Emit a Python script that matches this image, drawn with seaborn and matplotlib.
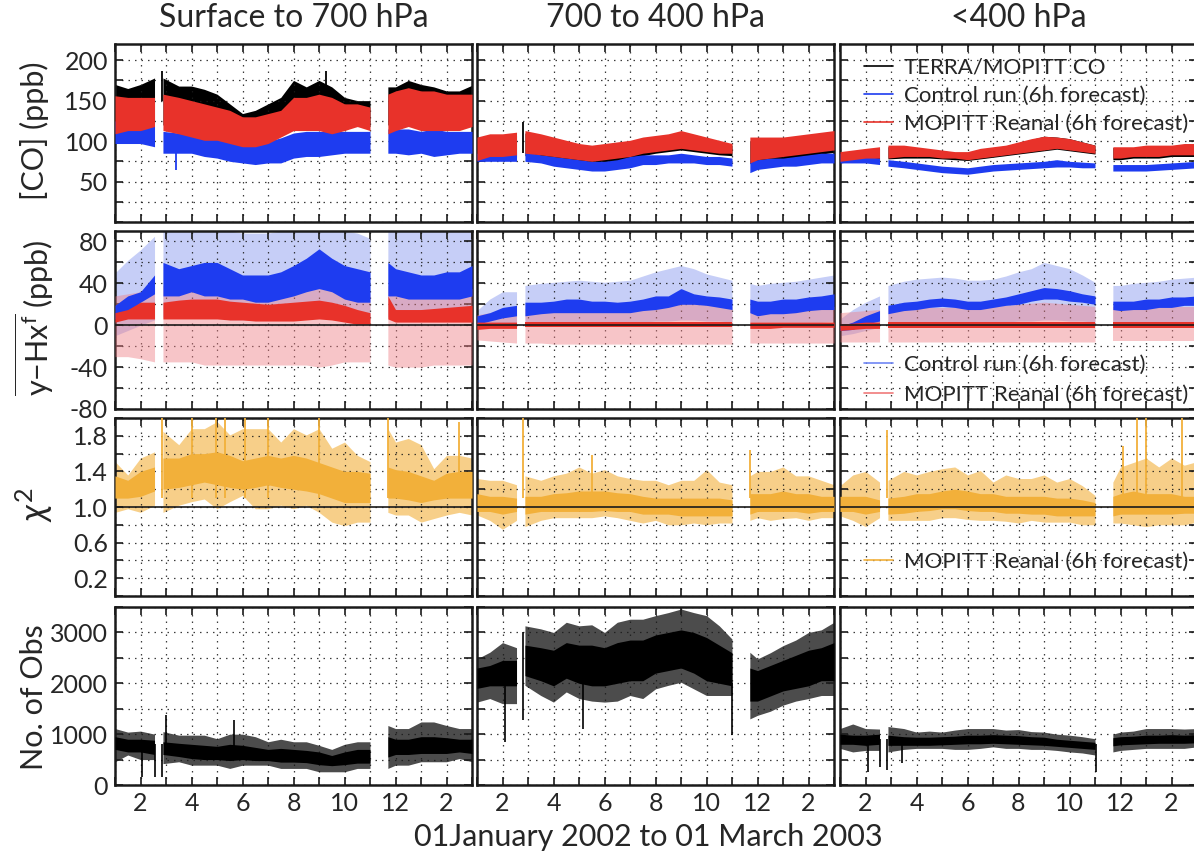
import numpy as np
import pandas as pd
import matplotlib
matplotlib.use('Agg')
import matplotlib.pyplot as plt
from matplotlib.lines import Line2D
from matplotlib.ticker import MultipleLocator, FuncFormatter
import seaborn as sns

N = np.nan

# time axis in months (1 = Jan 2002, 13 = Jan 2003, 15 = Mar 2003), NaN = Nov 2002 gap
T = [1.0, 1.5, 2.0, 2.55, 2.88, 3.5, 4.0, 4.5, 5.0, 5.5, 6.0, 6.5, 7.0, 7.5, 8.0, 8.5,
     9.0, 9.5, 10.0, 10.5, 11.0, 11.3, 11.7, 12.0, 12.5, 13.0, 13.5, 14.0, 14.5, 15.0]
# data gaps: mid Feb 2002 and Nov 2002
SEG = ['a'] * 4 + ['b'] * 18 + ['c'] * 8

# ---- [CO] (ppb): lower / upper envelope of each series ----
co_obs_hi_sfc = [170, 165, 170, 178, 178, 168, 168, 164, 158, 146, 134, 138, 146, 154, 175, 167, 175, 167, 154, 150, 150, N, 167, 167, 175, 170, 167, 162, 162, 169]
co_obs_lo_sfc = [120, 118, 120, 122, 120, 118, 115, 112, 108, 104, 100, 100, 104, 110, 118, 120, 120, 118, 118, 118, 118, N, 120, 120, 122, 120, 120, 120, 120, 120]
co_rea_hi_sfc = [156, 154, 154, 154, 158, 154, 150, 146, 142, 138, 130, 130, 134, 138, 154, 154, 158, 154, 146, 146, 142, N, 158, 162, 166, 162, 162, 158, 158, 158]
co_rea_lo_sfc = [109, 113, 113, 118, 113, 109, 105, 101, 101, 97, 93, 93, 97, 105, 113, 113, 113, 109, 113, 118, 113, N, 109, 113, 118, 113, 113, 113, 113, 118]
co_ctl_hi_sfc = [125, 122, 120, 118, 112, 110, 108, 106, 104, 100, 98, 98, 100, 104, 110, 112, 112, 112, 112, 112, 112, N, 115, 115, 115, 112, 115, 112, 112, 112]
co_ctl_lo_sfc = [97, 97, 97, 93, 85, 85, 85, 81, 79, 75, 73, 71, 73, 73, 79, 81, 81, 83, 85, 85, 85, N, 85, 85, 83, 85, 81, 83, 85, 85]

co_obs_hi_mid = [100, 104, 105, 107, 110, 105, 100, 96, 92, 90, 92, 95, 98, 102, 105, 107, 111, 108, 104, 99, 95, N, 100, 100, 101, 102, 104, 106, 108, 110]
co_obs_lo_mid = [74, 78, 78, 80, 82, 80, 77, 75, 73, 72, 73, 75, 78, 82, 85, 87, 89, 87, 85, 83, 82, N, 72, 75, 77, 78, 80, 82, 84, 86]
co_rea_hi_mid = [105, 109, 109, 111, 113, 109, 105, 101, 97, 95, 97, 99, 101, 105, 107, 109, 113, 109, 105, 101, 97, N, 105, 105, 105, 105, 107, 109, 111, 113]
co_rea_lo_mid = [76, 81, 81, 83, 85, 83, 81, 79, 77, 75, 77, 79, 81, 85, 87, 89, 91, 89, 87, 85, 85, N, 73, 77, 79, 81, 83, 85, 87, 89]
co_ctl_hi_mid = [85, 87, 87, 87, 87, 83, 81, 79, 77, 75, 75, 77, 81, 83, 83, 83, 85, 83, 81, 81, 79, N, 77, 77, 79, 79, 81, 83, 85, 85]
co_ctl_lo_mid = [75, 75, 75, 75, 75, 73, 69, 67, 65, 63, 63, 65, 67, 71, 71, 73, 73, 73, 71, 71, 69, N, 61, 65, 67, 69, 69, 71, 73, 73]

co_obs_hi_up = [85, 87, 89, 91, 93, 93, 91, 89, 88, 86, 86, 90, 92, 94, 98, 102, 106, 105, 103, 99, 95, N, 92, 92, 92, 94, 94, 94, 96, 96]
co_obs_lo_up = [73, 75, 77, 77, 78, 79, 79, 79, 78, 77, 76, 78, 80, 82, 84, 86, 88, 90, 88, 86, 84, N, 77, 77, 79, 79, 79, 81, 81, 81]
co_rea_hi_up = [87, 89, 91, 93, 95, 95, 93, 91, 89, 87, 87, 91, 93, 95, 99, 103, 106, 105, 103, 99, 95, N, 93, 93, 93, 95, 95, 95, 97, 97]
co_rea_lo_up = [75, 77, 79, 79, 79, 81, 81, 81, 79, 79, 77, 79, 81, 83, 85, 87, 89, 91, 89, 87, 85, N, 79, 79, 81, 81, 81, 83, 83, 83]
co_ctl_hi_up = [85, 83, 81, 79, 77, 75, 73, 71, 69, 68, 67, 69, 71, 72, 73, 74, 75, 77, 75, 74, 73, N, 71, 71, 71, 71, 72, 73, 74, 75]
co_ctl_lo_up = [73, 73, 73, 71, 69, 67, 65, 63, 61, 60, 59, 61, 63, 64, 65, 66, 67, 68, 68, 67, 67, N, 63, 63, 63, 63, 64, 65, 66, 67]

# isolated spikes (month, from, to)
co_spk_t_sfc = [2.83, 9.26, 3.40]
co_spk_lo_sfc = [150, 160, 64]
co_spk_hi_sfc = [187, 187, 95]
co_spk_c_sfc = ['k', 'k', 'b']
co_spk_t_mid = [2.82]
co_spk_lo_mid = [85]
co_spk_hi_mid = [124]
co_spk_c_mid = ['k']

# ---- mean O-F (ppb): spread band (light) and mean band (dark) ----
of_ctl_sd_hi_sfc = [50, 62, 72, 85, 90, 90, 90, 90, 90, 90, 88, 88, 88, 90, 90, 90, 90, 90, 90, 88, 83, N, 90, 90, 90, 90, 90, 90, 90, 90]
of_ctl_sd_lo_sfc = [-10, -5, 0, 5, 8, 8, 8, 8, 8, 5, 5, 5, 5, 5, 8, 8, 10, 8, 5, 5, 5, N, 8, 8, 5, 5, 5, 5, 5, 8]
of_ctl_hi_sfc = [19, 28, 32, 48, 60, 54, 57, 60, 60, 54, 48, 48, 48, 51, 57, 64, 73, 64, 57, 54, 51, N, 60, 54, 51, 48, 48, 51, 51, 57]
of_ctl_lo_sfc = [6, 12, 22, 30, 28, 28, 32, 28, 28, 25, 25, 22, 22, 25, 28, 32, 35, 32, 25, 22, 22, N, 28, 28, 25, 25, 25, 25, 25, 28]
of_rea_sd_hi_sfc = [28, 30, 32, 35, 38, 38, 38, 38, 38, 35, 35, 35, 35, 35, 38, 38, 40, 38, 35, 32, 30, N, 38, 35, 35, 35, 35, 35, 35, 35]
of_rea_sd_lo_sfc = [-30, -30, -32, -35, -35, -35, -35, -38, -38, -38, -38, -38, -38, -38, -38, -38, -40, -38, -35, -35, -35, N, -38, -40, -40, -40, -38, -38, -38, -38]
of_rea_hi_sfc = [12, 15, 22, 22, 22, 24, 25, 25, 25, 23, 22, 21, 20, 21, 22, 23, 24, 22, 19, 15, 12, N, 28, 15, 15, 15, 16, 17, 18, 19]
of_rea_lo_sfc = [3, 6, 6, 6, 6, 6, 6, 6, 6, 5, 5, 4, 4, 4, 4, 5, 6, 5, 3, 1, 1, N, 6, 3, 3, 3, 3, 3, 3, 3]

of_ctl_sd_hi_mid = [14, 25, 32, 32, 38, 40, 41, 42, 43, 42, 41, 42, 43, 47, 51, 54, 57, 54, 49, 46, 43, N, 40, 38, 40, 41, 42, 44, 46, 48]
of_ctl_sd_lo_mid = [-3, -2, 0, 2, 3, 3, 3, 3, 3, 3, 3, 3, 3, 3, 4, 4, 5, 5, 4, 4, 3, N, 3, 3, 3, 3, 3, 3, 3, 4]
of_ctl_hi_mid = [9, 12, 17, 19, 22, 22, 23, 25, 25, 23, 23, 22, 23, 25, 28, 28, 35, 30, 28, 27, 25, N, 25, 23, 23, 25, 25, 27, 28, 30]
of_ctl_lo_mid = [1, 4, 7, 9, 9, 11, 12, 12, 12, 12, 12, 12, 12, 14, 15, 17, 20, 20, 19, 17, 15, N, 12, 9, 11, 11, 12, 14, 15, 15]
of_rea_sd_hi_mid = [10, 12, 14, 15, 16, 17, 17, 17, 17, 17, 17, 17, 17, 18, 19, 20, 22, 21, 20, 19, 18, N, 17, 16, 16, 17, 17, 17, 18, 18]
of_rea_sd_lo_mid = [-14, -15, -16, -17, -17, -17, -18, -18, -18, -18, -18, -18, -18, -18, -18, -18, -18, -18, -18, -18, -18, N, -17, -17, -17, -17, -17, -17, -17, -17]
of_rea_hi_mid = [3, 3, 3, 3, 3, 3, 3, 3, 3, 3, 3, 3, 3, 3, 3, 3, 3, 3, 3, 3, 3, N, 3, 3, 3, 3, 3, 3, 3, 3]
of_rea_lo_mid = [-4, -3, -3, -3, -2, -2, -2, -2, -2, -2, -2, -2, -2, -2, -2, -2, -2, -2, -2, -2, -2, N, -3, -3, -3, -2, -2, -2, -2, -2]

of_ctl_sd_hi_up = [6, 15, 22, 28, 38, 42, 44, 45, 46, 45, 43, 43, 44, 47, 51, 54, 60, 57, 54, 48, 41, N, 38, 38, 40, 41, 42, 44, 45, 46]
of_ctl_sd_lo_up = [-10, -8, -5, -2, 0, 2, 3, 3, 3, 3, 3, 3, 3, 3, 4, 4, 5, 5, 4, 4, 3, N, 3, 3, 3, 3, 3, 3, 3, 3]
of_ctl_hi_up = [-1, 3, 9, 14, 19, 22, 23, 25, 26, 25, 23, 23, 25, 27, 30, 33, 36, 35, 33, 30, 28, N, 23, 23, 23, 25, 25, 27, 27, 28]
of_ctl_lo_up = [-5, -4, 1, 4, 11, 14, 15, 17, 18, 17, 15, 15, 17, 19, 20, 23, 25, 25, 23, 22, 20, N, 15, 14, 15, 15, 17, 17, 19, 19]
of_rea_sd_hi_up = [12, 13, 14, 15, 17, 17, 17, 17, 17, 17, 17, 17, 18, 19, 20, 21, 22, 21, 20, 19, 18, N, 17, 17, 17, 17, 17, 17, 17, 17]
of_rea_sd_lo_up = [-16, -16, -16, -16, -16, -16, -16, -16, -16, -16, -16, -16, -16, -16, -16, -16, -16, -16, -16, -16, -16, N, -15, -15, -15, -15, -15, -15, -15, -15]
of_rea_hi_up = [1, 2, 3, 3, 3, 3, 3, 3, 3, 3, 3, 3, 3, 3, 3, 3, 3, 3, 3, 3, 3, N, 3, 3, 3, 3, 3, 3, 3, 3]
of_rea_lo_up = [-5, -4, -3, -3, -3, -3, -3, -3, -3, -3, -3, -3, -3, -3, -3, -3, -3, -3, -3, -3, -3, N, -3, -3, -3, -3, -3, -3, -3, -3]

# ---- chi^2: spikes (outer) and dense core ----
chi_out_hi_sfc = [1.51, 1.36, 1.55, 1.62, 1.85, 1.70, 1.88, 1.88, 1.96, 1.81, 1.88, 1.88, 1.88, 1.73, 1.88, 1.81, 1.88, 1.66, 1.73, 1.58, 1.51, N, 1.88, 1.73, 1.77, 1.70, 1.43, 1.58, 1.58, 1.55]
chi_out_lo_sfc = [0.94, 0.98, 0.94, 1.02, 0.94, 1.02, 1.06, 1.09, 0.98, 1.06, 1.13, 0.98, 0.98, 1.02, 0.98, 1.02, 0.94, 0.83, 0.79, 0.83, 0.83, N, 0.94, 0.91, 0.91, 0.83, 0.87, 0.91, 0.94, 0.91]
chi_core_hi_sfc = [1.35, 1.30, 1.40, 1.45, 1.55, 1.55, 1.60, 1.60, 1.62, 1.58, 1.52, 1.55, 1.58, 1.55, 1.58, 1.55, 1.50, 1.45, 1.40, 1.40, 1.38, N, 1.45, 1.42, 1.40, 1.35, 1.30, 1.38, 1.40, 1.40]
chi_core_lo_sfc = [1.10, 1.10, 1.12, 1.18, 1.20, 1.22, 1.25, 1.28, 1.25, 1.22, 1.20, 1.22, 1.25, 1.22, 1.20, 1.18, 1.15, 1.10, 1.05, 1.05, 1.05, N, 1.10, 1.10, 1.08, 1.05, 1.08, 1.10, 1.10, 1.10]
chi_spk_t_sfc = [2.83, 4.0, 4.95, 5.3, 6.1, 7.0, 9.0, 11.72, 14.5]
chi_spk_v_sfc = [2.0, 2.0, 2.0, 2.0, 2.0, 2.0, 2.0, 2.0, 1.95]

chi_out_hi_mid = [1.32, 1.30, 1.30, 1.25, 1.35, 1.30, 1.35, 1.38, 1.45, 1.38, 1.42, 1.35, 1.32, 1.30, 1.30, 1.25, 1.30, 1.30, 1.42, 1.28, 1.25, N, 1.35, 1.40, 1.40, 1.45, 1.35, 1.35, 1.30, 1.25]
chi_out_lo_mid = [0.91, 0.85, 0.75, 0.85, 0.78, 0.85, 0.88, 0.88, 0.88, 0.88, 0.90, 0.88, 0.85, 0.82, 0.85, 0.80, 0.80, 0.82, 0.80, 0.82, 0.82, N, 0.85, 0.88, 0.85, 0.87, 0.88, 0.85, 0.88, 0.88]
chi_core_hi_mid = [1.15, 1.12, 1.12, 1.10, 1.12, 1.12, 1.15, 1.16, 1.18, 1.18, 1.18, 1.16, 1.15, 1.12, 1.10, 1.10, 1.10, 1.10, 1.10, 1.10, 1.08, N, 1.15, 1.15, 1.15, 1.18, 1.15, 1.15, 1.12, 1.12]
chi_core_lo_mid = [0.95, 0.95, 0.92, 0.95, 0.92, 0.95, 0.95, 0.95, 0.95, 0.95, 0.96, 0.95, 0.95, 0.92, 0.92, 0.92, 0.90, 0.90, 0.90, 0.90, 0.90, N, 0.92, 0.95, 0.95, 0.95, 0.95, 0.93, 0.95, 0.95]
chi_spk_t_mid = [2.81, 5.5, 11.72]
chi_spk_v_mid = [2.0, 1.58, 1.64]

chi_out_hi_up = [1.24, 1.36, 1.40, 1.28, 1.30, 1.40, 1.36, 1.40, 1.43, 1.45, 1.36, 1.41, 1.28, 1.36, 1.32, 1.32, 1.36, 1.28, 1.32, 1.24, 1.13, N, 1.28, 1.45, 1.50, 1.55, 1.45, 1.55, 1.47, 1.51]
chi_out_lo_up = [0.90, 0.85, 0.78, 0.88, 0.85, 0.85, 0.85, 0.85, 0.88, 0.88, 0.86, 0.85, 0.85, 0.84, 0.82, 0.85, 0.83, 0.83, 0.83, 0.80, 0.80, N, 0.82, 0.82, 0.80, 0.78, 0.80, 0.80, 0.80, 0.83]
chi_core_hi_up = [1.12, 1.12, 1.12, 1.08, 1.10, 1.12, 1.15, 1.15, 1.18, 1.20, 1.18, 1.15, 1.15, 1.12, 1.12, 1.12, 1.12, 1.10, 1.10, 1.08, 1.05, N, 1.12, 1.15, 1.18, 1.15, 1.15, 1.15, 1.12, 1.12]
chi_core_lo_up = [0.95, 0.95, 0.92, 0.95, 0.92, 0.93, 0.95, 0.96, 0.98, 0.98, 0.96, 0.95, 0.95, 0.93, 0.93, 0.92, 0.92, 0.90, 0.90, 0.90, 0.90, N, 0.90, 0.92, 0.92, 0.92, 0.92, 0.92, 0.93, 0.93]
chi_spk_t_up = [2.83, 12.11, 12.66, 12.99, 14.43]
chi_spk_v_up = [1.87, 1.68, 2.0, 2.0, 2.0]

# ---- number of observations ----
nob_out_hi_sfc = [1110, 1040, 1060, 1000, 1050, 980, 980, 980, 910, 1000, 1000, 950, 850, 900, 850, 850, 780, 700, 800, 850, 850, N, 1170, 1110, 1110, 1240, 1240, 1170, 1110, 1110]
nob_out_lo_sfc = [457, 590, 500, 500, 420, 457, 390, 390, 390, 326, 390, 390, 390, 326, 326, 326, 260, 260, 260, 326, 326, N, 326, 390, 390, 457, 457, 457, 520, 457]
nob_core_hi_sfc = [950, 900, 900, 880, 850, 820, 800, 780, 760, 800, 780, 740, 700, 720, 700, 680, 650, 580, 650, 700, 700, N, 950, 900, 900, 950, 950, 930, 900, 900]
nob_core_lo_sfc = [700, 650, 650, 600, 600, 560, 520, 500, 500, 480, 500, 480, 480, 450, 450, 440, 400, 380, 400, 430, 430, N, 550, 600, 600, 620, 620, 620, 650, 620]
nob_spk_t_sfc = [2.05, 2.57, 2.86, 3.0, 5.65]
nob_spk_lo_sfc = [160, 160, 160, 700, 700]
nob_spk_hi_sfc = [800, 800, 800, 1370, 1270]

nob_out_hi_mid = [2480, 2610, 2800, 2700, 3130, 3070, 3000, 3200, 3130, 3150, 3000, 3200, 3260, 3260, 3330, 3390, 3460, 3390, 3330, 3130, 2870, N, 2610, 2480, 2600, 2740, 2850, 3000, 3050, 3200]
nob_out_lo_mid = [1630, 1700, 1600, 1600, 1960, 1760, 1630, 1830, 1700, 1650, 1630, 1650, 1760, 1700, 1890, 1960, 2020, 1890, 1760, 1760, 1760, N, 1300, 1370, 1450, 1570, 1650, 1700, 1760, 1760]
nob_core_hi_mid = [2300, 2350, 2450, 2450, 2750, 2700, 2650, 2800, 2750, 2750, 2700, 2800, 2850, 2850, 2950, 3000, 3050, 3000, 2900, 2750, 2600, N, 2300, 2250, 2350, 2450, 2550, 2650, 2700, 2800]
nob_core_lo_mid = [1900, 1950, 1950, 1950, 2150, 2050, 1950, 2100, 2000, 1950, 1950, 2000, 2050, 2050, 2200, 2250, 2300, 2200, 2050, 2000, 1950, N, 1650, 1650, 1750, 1850, 1900, 1950, 2050, 2050]
nob_spk_t_mid = [2.09, 2.8, 5.17, 11.0]
nob_spk_lo_mid = [850, 1270, 1110, 980]
nob_spk_hi_mid = [2000, 3000, 2000, 2000]

nob_out_hi_up = [1110, 1200, 1110, 1100, 1150, 1110, 1040, 1060, 1040, 1080, 1110, 1110, 1110, 1080, 1090, 1050, 1040, 1000, 980, 950, 910, N, 1000, 1040, 1060, 1110, 1110, 1110, 1100, 1110]
nob_out_lo_up = [720, 650, 680, 680, 650, 700, 720, 720, 720, 700, 700, 720, 750, 720, 720, 700, 700, 680, 650, 630, 590, N, 650, 680, 700, 720, 720, 720, 720, 750]
nob_core_hi_up = [1000, 980, 980, 1000, 980, 950, 940, 940, 950, 960, 980, 980, 990, 980, 970, 950, 940, 900, 880, 860, 840, N, 930, 950, 960, 980, 980, 990, 980, 990]
nob_core_lo_up = [800, 800, 780, 800, 780, 780, 780, 780, 790, 800, 810, 810, 820, 810, 800, 790, 780, 760, 740, 720, 700, N, 770, 790, 800, 810, 820, 820, 820, 830]
nob_spk_t_up = [2.11, 2.57, 2.86, 3.42, 11.03]
nob_spk_lo_up = [260, 360, 295, 425, 260]
nob_spk_hi_up = [900, 900, 900, 900, 800]

col_titles = ['Surface to 700 hPa', '700 to 400 hPa', '<400 hPa']
row_labels = ['[CO] (ppb)', r'$\overline{\mathrm{y{-}Hx}^{\mathrm{f}}}$ (ppb)', r'$\chi^2$', 'No. of Obs']

BLACK = '#000000'
BLUE = '#1e3cf0'
RED = '#e8322a'
ORANGE = '#f2b03a'
LBLUE = '#b8c2f5'
PINK = '#ee7f86'

sns.set_theme(style='white')
plt.rcParams['font.family'] = ['Lato', 'DejaVu Sans']
plt.rcParams['mathtext.fontset'] = 'custom'
plt.rcParams['mathtext.rm'] = 'Lato'
plt.rcParams['mathtext.it'] = 'Lato:italic'
plt.rcParams['mathtext.sf'] = 'Lato'
plt.rcParams['axes.unicode_minus'] = False


def band(ax, lo, hi, color, alpha=1.0, z=2):
    # min/max envelope drawn by seaborn as a 100% interval band, one per data segment
    df = pd.DataFrame({'t': T * 2, 'v': lo + hi, 'seg': SEG * 2}).dropna()
    sns.lineplot(data=df, x='t', y='v', hue='seg', palette=[color] * 3,
                 estimator='mean', errorbar=('pi', 100), lw=0, legend=False,
                 err_kws={'alpha': alpha, 'lw': 0, 'zorder': z}, ax=ax)


fig = plt.figure(figsize=(11.94, 8.55), dpi=100)
col_x = [115, 477, 840]
row_top = [44, 231, 418, 607]
W, H = 357, 178

ylims = [(0, 220), (-80, 90), (0, 2.0), (0, 3500)]
ymaj = [[50, 100, 150, 200], [-80, -40, 0, 40, 80], [0.2, 0.6, 1.0, 1.4, 1.8], [0, 1000, 2000, 3000]]
ymin = [25, 20, 0.2, 500]

axes = [[None] * 3 for _ in range(4)]
for r in range(4):
    for c in range(3):
        ax = fig.add_axes([col_x[c] / 1194, 1 - (row_top[r] + H) / 855, W / 1194, H / 855])
        axes[r][c] = ax

spk_col = {'k': BLACK, 'b': BLUE}
sfx = ['sfc', 'mid', 'up']
g = globals()
for c, s in enumerate(sfx):
    ax = axes[0][c]
    band(ax, g['co_obs_lo_' + s], g['co_obs_hi_' + s], BLACK, 1.0, 2)
    band(ax, g['co_ctl_lo_' + s], g['co_ctl_hi_' + s], BLUE, 1.0, 3)
    band(ax, g['co_rea_lo_' + s], g['co_rea_hi_' + s], RED, 1.0, 4)
    if 'co_spk_t_' + s in g:
        ax.vlines(g['co_spk_t_' + s], g['co_spk_lo_' + s], g['co_spk_hi_' + s],
                  colors=[spk_col[k] for k in g['co_spk_c_' + s]], lw=1.3, zorder=5)

    ax = axes[1][c]
    band(ax, g['of_ctl_sd_lo_' + s], g['of_ctl_sd_hi_' + s], LBLUE, 0.8, 2)
    band(ax, g['of_rea_sd_lo_' + s], g['of_rea_sd_hi_' + s], PINK, 0.45, 3)
    band(ax, g['of_ctl_lo_' + s], g['of_ctl_hi_' + s], BLUE, 1.0, 4)
    band(ax, g['of_rea_lo_' + s], g['of_rea_hi_' + s], RED, 1.0, 5)
    ax.axhline(0, color='k', lw=1.2, zorder=6)

    ax = axes[2][c]
    band(ax, g['chi_out_lo_' + s], g['chi_out_hi_' + s], ORANGE, 0.6, 2)
    band(ax, g['chi_core_lo_' + s], g['chi_core_hi_' + s], ORANGE, 1.0, 3)
    ax.vlines(g['chi_spk_t_' + s], 1.1, g['chi_spk_v_' + s], colors=ORANGE, lw=1.3, zorder=4)
    ax.axhline(1.0, color='k', lw=1.2, zorder=6)

    ax = axes[3][c]
    band(ax, g['nob_out_lo_' + s], g['nob_out_hi_' + s], BLACK, 0.7, 2)
    band(ax, g['nob_core_lo_' + s], g['nob_core_hi_' + s], BLACK, 1.0, 3)
    ax.vlines(g['nob_spk_t_' + s], g['nob_spk_lo_' + s], g['nob_spk_hi_' + s], colors=BLACK, lw=1.2, zorder=4)

month_fmt = FuncFormatter(lambda v, p: '' if int(round(v)) % 2 else str((int(round(v)) - 1) % 12 + 1))

for r in range(4):
    for c in range(3):
        ax = axes[r][c]
        ax.set_xlim(1, 15)
        ax.set_ylim(*ylims[r])
        ax.set_xlabel('')
        ax.set_ylabel('')
        ax.xaxis.set_major_locator(MultipleLocator(1))
        ax.xaxis.set_major_formatter(month_fmt)
        ax.set_yticks(ymaj[r])
        ax.yaxis.set_minor_locator(MultipleLocator(ymin[r]))
        ax.grid(True, which='both', color='k', lw=0.9, ls=(0, (1.2, 4)), alpha=0.85)
        ax.set_axisbelow(False)
        ax.tick_params(which='both', direction='in', length=6, width=1.2, color='k',
                       top=True, right=True, bottom=True, left=True,
                       labelsize=18, pad=5,
                       labelleft=(c == 0), labelbottom=(r == 3))
        for sp in ax.spines.values():
            sp.set_linewidth(1.8)
            sp.set_color('k')

for c, t in enumerate(col_titles):
    fig.text((col_x[c] + W / 2) / 1194, 1 - 18 / 855, t, ha='center', va='center', fontsize=23)

row_cy = [131, 318, 505, 697]
row_fs = [22, 22, 26, 22]
for r, lab in enumerate(row_labels):
    fig.text(34 / 1194, 1 - row_cy[r] / 855, lab, ha='center', va='center', rotation=90, fontsize=row_fs[r])

fig.text(648 / 1194, 1 - 837 / 855, '01January 2002 to 01 March 2003', ha='center', va='center', fontsize=22)

leg_kw = dict(frameon=False, fontsize=16, handlelength=1.3, handletextpad=0.5, borderaxespad=0.2)
h_top = [Line2D([], [], color=BLACK, lw=1.2), Line2D([], [], color=BLUE, lw=1.2), Line2D([], [], color=RED, lw=1.2)]
axes[0][2].legend(h_top, ['TERRA/MOPITT CO', 'Control run (6h forecast)', 'MOPITT Reanal (6h forecast)'],
                  loc='upper left', bbox_to_anchor=(0.03, 1.0), labelspacing=0.38, **leg_kw)
h_of = [Line2D([], [], color='#6f86f5', lw=1.2), Line2D([], [], color='#f07a7a', lw=1.2)]
axes[1][2].legend(h_of, ['Control run (6h forecast)', 'MOPITT Reanal (6h forecast)'],
                  loc='lower left', bbox_to_anchor=(0.03, -0.05), labelspacing=0.45, **leg_kw)
h_chi = [Line2D([], [], color=ORANGE, lw=1.2)]
axes[2][2].legend(h_chi, ['MOPITT Reanal (6h forecast)'],
                  loc='lower left', bbox_to_anchor=(0.03, 0.06), **leg_kw)

fig.savefig('out.png', dpi=100)
